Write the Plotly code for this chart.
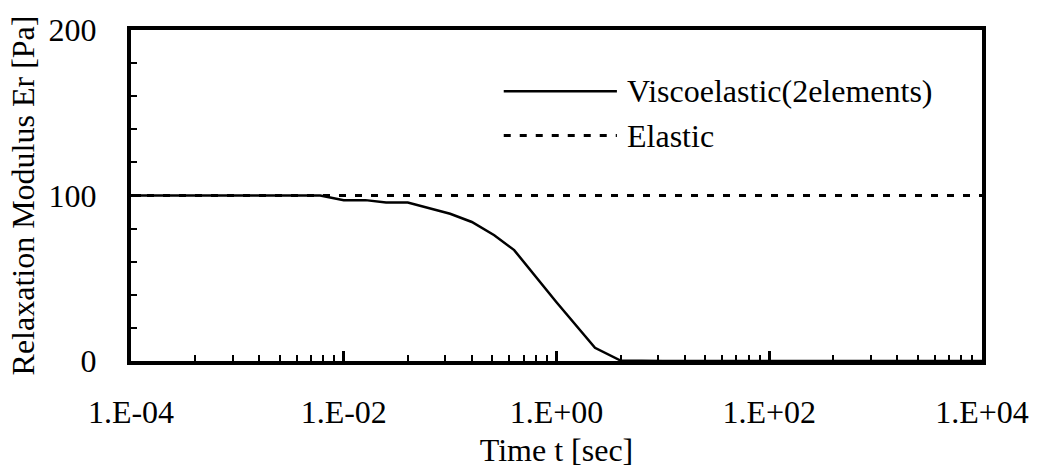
import plotly.graph_objects as go

# ---- data ----
visco_t = [1e-4, 6e-3, 0.01, 0.016, 0.025, 0.04, 0.1, 0.16, 0.26, 0.4, 1.0, 2.3, 4.0, 10.0, 1e4]
visco_E = [100, 100, 97.2, 97.2, 95.8, 95.8, 89, 84, 76, 67, 35.5, 8, 0.3, 0, 0]
elastic_t = [1e-4, 1e4]
elastic_E = [100, 100]

x_tickvals = [1e-4, 1e-2, 1e0, 1e2, 1e4]
x_ticktext = ["1.E-04", "1.E-02", "1.E+00", "1.E+02", "1.E+04"]
y_tickvals = [0, 100, 200]
y_ticktext = ["0", "100", "200"]
legend_names = ["Viscoelastic(2elements)", "Elastic"]

# Excel-style minor ticks on a log axis with a major unit of 100
x_minor = []
for base in x_tickvals[:-1]:
    for k in range(2, 10):
        x_minor.append(base * k * k)
y_minor = [v for v in range(0, 201, 20) if v not in y_tickvals]

FONT = "Liberation Serif"
FS = 32

fig = go.Figure()
fig.add_trace(go.Scatter(x=visco_t, y=visco_E, mode="lines",
                         line=dict(color="black", width=2.5), name=legend_names[0],
                         showlegend=False))
fig.add_trace(go.Scatter(x=elastic_t, y=elastic_E, mode="lines",
                         line=dict(color="black", width=3, dash="7px,9px"), name=legend_names[1],
                         showlegend=False))

# custom legend (Excel-like long samples)
leg_y = [0.815, 0.681]
leg_dash = ["solid", "7px,9px"]
leg_w = [2.5, 3]
for name, yy, d, w in zip(legend_names, leg_y, leg_dash, leg_w):
    fig.add_shape(type="line", xref="paper", yref="paper", x0=0.438, x1=0.571, y0=yy, y1=yy,
                  line=dict(color="black", width=w, dash=d))
    fig.add_annotation(xref="paper", yref="paper", x=0.581, y=yy, text=name, showarrow=False,
                       xanchor="left", yanchor="middle", font=dict(family=FONT, size=FS, color="black"))

fig.update_layout(
    width=1041, height=475,
    margin=dict(l=131, r=54, t=22, b=114),
    paper_bgcolor="white", plot_bgcolor="white",
    font=dict(family=FONT, size=FS, color="black"),
    showlegend=False,
)
fig.update_xaxes(
    type="log", range=[-4, 4],
    tickvals=x_tickvals, ticktext=x_ticktext,
    ticks="inside", ticklen=10, tickwidth=2.5, tickcolor="black",
    minor=dict(tickvals=x_minor, ticks="inside", ticklen=6, tickwidth=2, tickcolor="black"),
    showline=True, linewidth=4, linecolor="black", mirror=True,
    showgrid=False, zeroline=False,
    ticklabelstandoff=20,
    tickfont=dict(family=FONT, size=FS, color="black"),
    title=dict(text="Time t [sec]", font=dict(family=FONT, size=FS, color="black"), standoff=10),
)
fig.update_yaxes(
    range=[0, 200],
    tickvals=y_tickvals, ticktext=y_ticktext,
    ticks="inside", ticklen=10, tickwidth=2.5, tickcolor="black",
    minor=dict(tickvals=y_minor, ticks="inside", ticklen=6, tickwidth=2, tickcolor="black"),
    showline=True, linewidth=4, linecolor="black", mirror=True,
    showgrid=False, zeroline=False,
    ticklabelstandoff=24,
    tickfont=dict(family=FONT, size=FS, color="black"),
    title=dict(text="Relaxation Modulus Er [Pa]", font=dict(family=FONT, size=FS, color="black"), standoff=5),
)

fig.write_html("out.html")
